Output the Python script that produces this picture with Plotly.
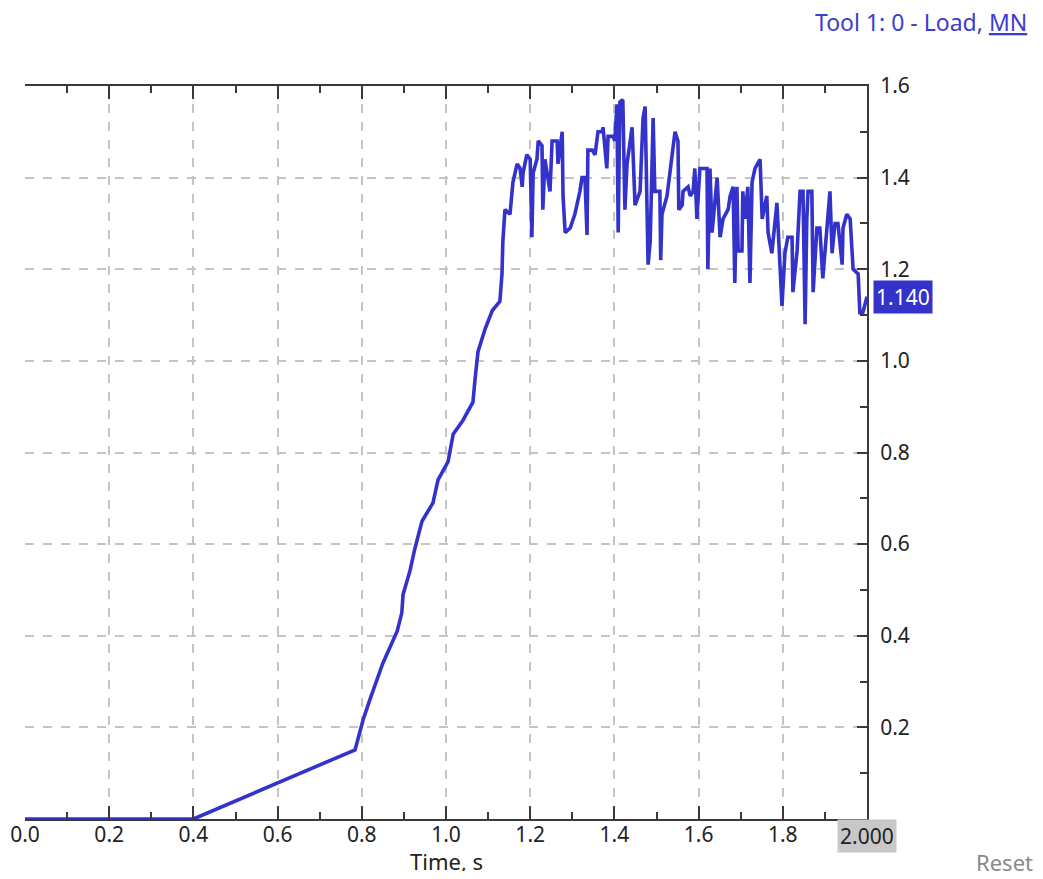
import plotly.graph_objects as go

# ---- data (time in s, load in MN) ----
time = [0.000, 0.400, 0.784, 0.803, 0.819, 0.850, 0.884, 0.895, 0.898, 0.914,
        0.926, 0.943, 0.969, 0.981, 1.005, 1.017, 1.040, 1.064, 1.069, 1.076,
        1.093, 1.110, 1.128, 1.133, 1.135, 1.140, 1.152, 1.157, 1.159, 1.169,
        1.176, 1.181, 1.183, 1.192, 1.200, 1.204, 1.207, 1.216, 1.219, 1.228,
        1.230, 1.235, 1.247, 1.252, 1.264, 1.266, 1.276, 1.278, 1.283, 1.295,
        1.306, 1.318, 1.323, 1.330, 1.335, 1.337, 1.347, 1.354, 1.361, 1.371,
        1.373, 1.382, 1.385, 1.397, 1.401, 1.406, 1.409, 1.413, 1.420, 1.425,
        1.430, 1.442, 1.449, 1.461, 1.466, 1.468, 1.473, 1.480, 1.485, 1.492,
        1.496, 1.508, 1.510, 1.513, 1.525, 1.537, 1.544, 1.551, 1.553, 1.561,
        1.563, 1.575, 1.580, 1.587, 1.591, 1.596, 1.603, 1.615, 1.620, 1.622,
        1.627, 1.632, 1.644, 1.651, 1.658, 1.670, 1.675, 1.682, 1.686, 1.691,
        1.694, 1.703, 1.705, 1.710, 1.717, 1.722, 1.727, 1.734, 1.746, 1.751,
        1.762, 1.765, 1.774, 1.786, 1.793, 1.798, 1.805, 1.812, 1.822, 1.824,
        1.834, 1.841, 1.848, 1.853, 1.857, 1.860, 1.869, 1.872, 1.881, 1.888,
        1.895, 1.905, 1.912, 1.917, 1.924, 1.931, 1.941, 1.943, 1.952, 1.960,
        1.964, 1.967, 1.979, 1.983, 1.990, 2.000]
load = [0.000, 0.000, 0.151, 0.216, 0.260, 0.340, 0.410, 0.450, 0.490, 0.540,
        0.590, 0.650, 0.690, 0.740, 0.780, 0.840, 0.870, 0.910, 0.960, 1.020,
        1.070, 1.110, 1.130, 1.190, 1.260, 1.330, 1.320, 1.360, 1.390, 1.430,
        1.420, 1.380, 1.410, 1.450, 1.440, 1.270, 1.410, 1.440, 1.480, 1.470,
        1.330, 1.440, 1.370, 1.480, 1.480, 1.430, 1.500, 1.360, 1.280, 1.290,
        1.320, 1.370, 1.400, 1.400, 1.275, 1.460, 1.460, 1.450, 1.500, 1.500,
        1.510, 1.420, 1.490, 1.490, 1.480, 1.560, 1.280, 1.565, 1.570, 1.330,
        1.430, 1.510, 1.340, 1.370, 1.500, 1.530, 1.555, 1.210, 1.260, 1.530,
        1.370, 1.370, 1.220, 1.320, 1.360, 1.440, 1.500, 1.480, 1.330, 1.340,
        1.370, 1.380, 1.360, 1.370, 1.420, 1.310, 1.420, 1.420, 1.420, 1.200,
        1.420, 1.280, 1.400, 1.270, 1.310, 1.330, 1.360, 1.380, 1.170, 1.380,
        1.240, 1.240, 1.370, 1.310, 1.380, 1.170, 1.390, 1.420, 1.440, 1.310,
        1.360, 1.280, 1.235, 1.345, 1.220, 1.120, 1.235, 1.270, 1.270, 1.150,
        1.240, 1.370, 1.370, 1.080, 1.310, 1.370, 1.370, 1.150, 1.290, 1.290,
        1.180, 1.280, 1.370, 1.235, 1.300, 1.300, 1.210, 1.290, 1.320, 1.310,
        1.260, 1.200, 1.190, 1.105, 1.105, 1.140]

x_tick_vals = [0.0, 0.2, 0.4, 0.6, 0.8, 1.0, 1.2, 1.4, 1.6, 1.8]
x_tick_text = ["0.0", "0.2", "0.4", "0.6", "0.8", "1.0", "1.2", "1.4", "1.6", "1.8"]
y_tick_vals = [0.2, 0.4, 0.6, 0.8, 1.0, 1.2, 1.4, 1.6]
y_tick_text = ["0.2", "0.4", "0.6", "0.8", "1.0", "1.2", "1.4", "1.6"]

title_text = "Tool 1: 0 - Load, <u>MN</u>"
x_title = "Time, s"

FONT = "Noto Sans"
BLUE = "#3333cc"
AXIS = "#3a3a3a"
GRID = "#c4c4c4"
TXT = "#222222"

fig = go.Figure()
fig.add_trace(go.Scatter(x=time, y=load, mode="lines",
                         line=dict(color=BLUE, width=3.6), hoverinfo="skip"))

fig.update_layout(
    width=1027, height=863,
    margin=dict(l=17, r=168, t=78, b=52),
    paper_bgcolor="white", plot_bgcolor="white",
    showlegend=False,
    font=dict(family=FONT, size=21, color=TXT),
    xaxis=dict(
        range=[0, 2.0], tickmode="array", tickvals=x_tick_vals, ticktext=x_tick_text,
        showline=True, linecolor=AXIS, linewidth=2, mirror="ticks",
        ticks="inside", ticklen=13, tickwidth=2, tickcolor=AXIS,
        showgrid=True, gridcolor=GRID, griddash="dash", gridwidth=1.5,
        zeroline=False, fixedrange=True, ticklabelstandoff=-4, automargin=False,
        minor=dict(tickmode="linear", tick0=0, dtick=0.1, ticks="inside",
                   ticklen=7, tickwidth=2, tickcolor=AXIS, showgrid=False),
        tickfont=dict(family=FONT, size=21, color=TXT),
    ),
    yaxis=dict(
        range=[0, 1.6], side="right", tickmode="array", tickvals=y_tick_vals, ticktext=y_tick_text,
        showline=True, linecolor=AXIS, linewidth=2, mirror=False,
        ticks="inside", ticklen=10, tickwidth=2, tickcolor=AXIS,
        showgrid=True, gridcolor=GRID, griddash="dash", gridwidth=1.5,
        zeroline=False, fixedrange=True, ticklabelstandoff=7, automargin=False,
        minor=dict(tickmode="linear", tick0=0, dtick=0.1, ticks="inside",
                   ticklen=7, tickwidth=2, tickcolor=AXIS, showgrid=False),
        tickfont=dict(family=FONT, size=21, color=TXT),
    ),
)

# title top-right
fig.add_annotation(text=title_text, xref="paper", yref="paper", x=1.0, y=1.0,
                   xanchor="right", yanchor="middle", xshift=162, yshift=64,
                   showarrow=False, font=dict(family=FONT, size=23, color="#3c3cd0"))
# x-axis title
fig.add_annotation(text=x_title, xref="paper", yref="paper", x=0.5, y=0,
                   xanchor="center", yanchor="middle", yshift=-42,
                   showarrow=False, font=dict(family=FONT, size=22, color=TXT))
# current value label on the y axis
fig.add_annotation(text=f"{load[-1]:.3f}", xref="paper", yref="y", x=1.0, y=load[-1],
                   xanchor="left", yanchor="middle", xshift=6,
                   showarrow=False, bgcolor=BLUE, borderpad=2,
                   font=dict(family=FONT, size=21, color="white"))
# current time label on the x axis
fig.add_annotation(text=f"{time[-1]:.3f}", xref="x", yref="paper", x=time[-1], y=0,
                   xanchor="center", yanchor="top", yshift=0,
                   showarrow=False, bgcolor="#c8c8c8", borderpad=2,
                   font=dict(family=FONT, size=21, color=TXT))
# reset link
fig.add_annotation(text="<u>Reset</u>", xref="paper", yref="paper", x=1.0, y=0,
                   xanchor="right", yanchor="middle", xshift=168, yshift=-43,
                   showarrow=False, font=dict(family=FONT, size=22, color="#8a8a8a"))

fig.write_html("out.html")
